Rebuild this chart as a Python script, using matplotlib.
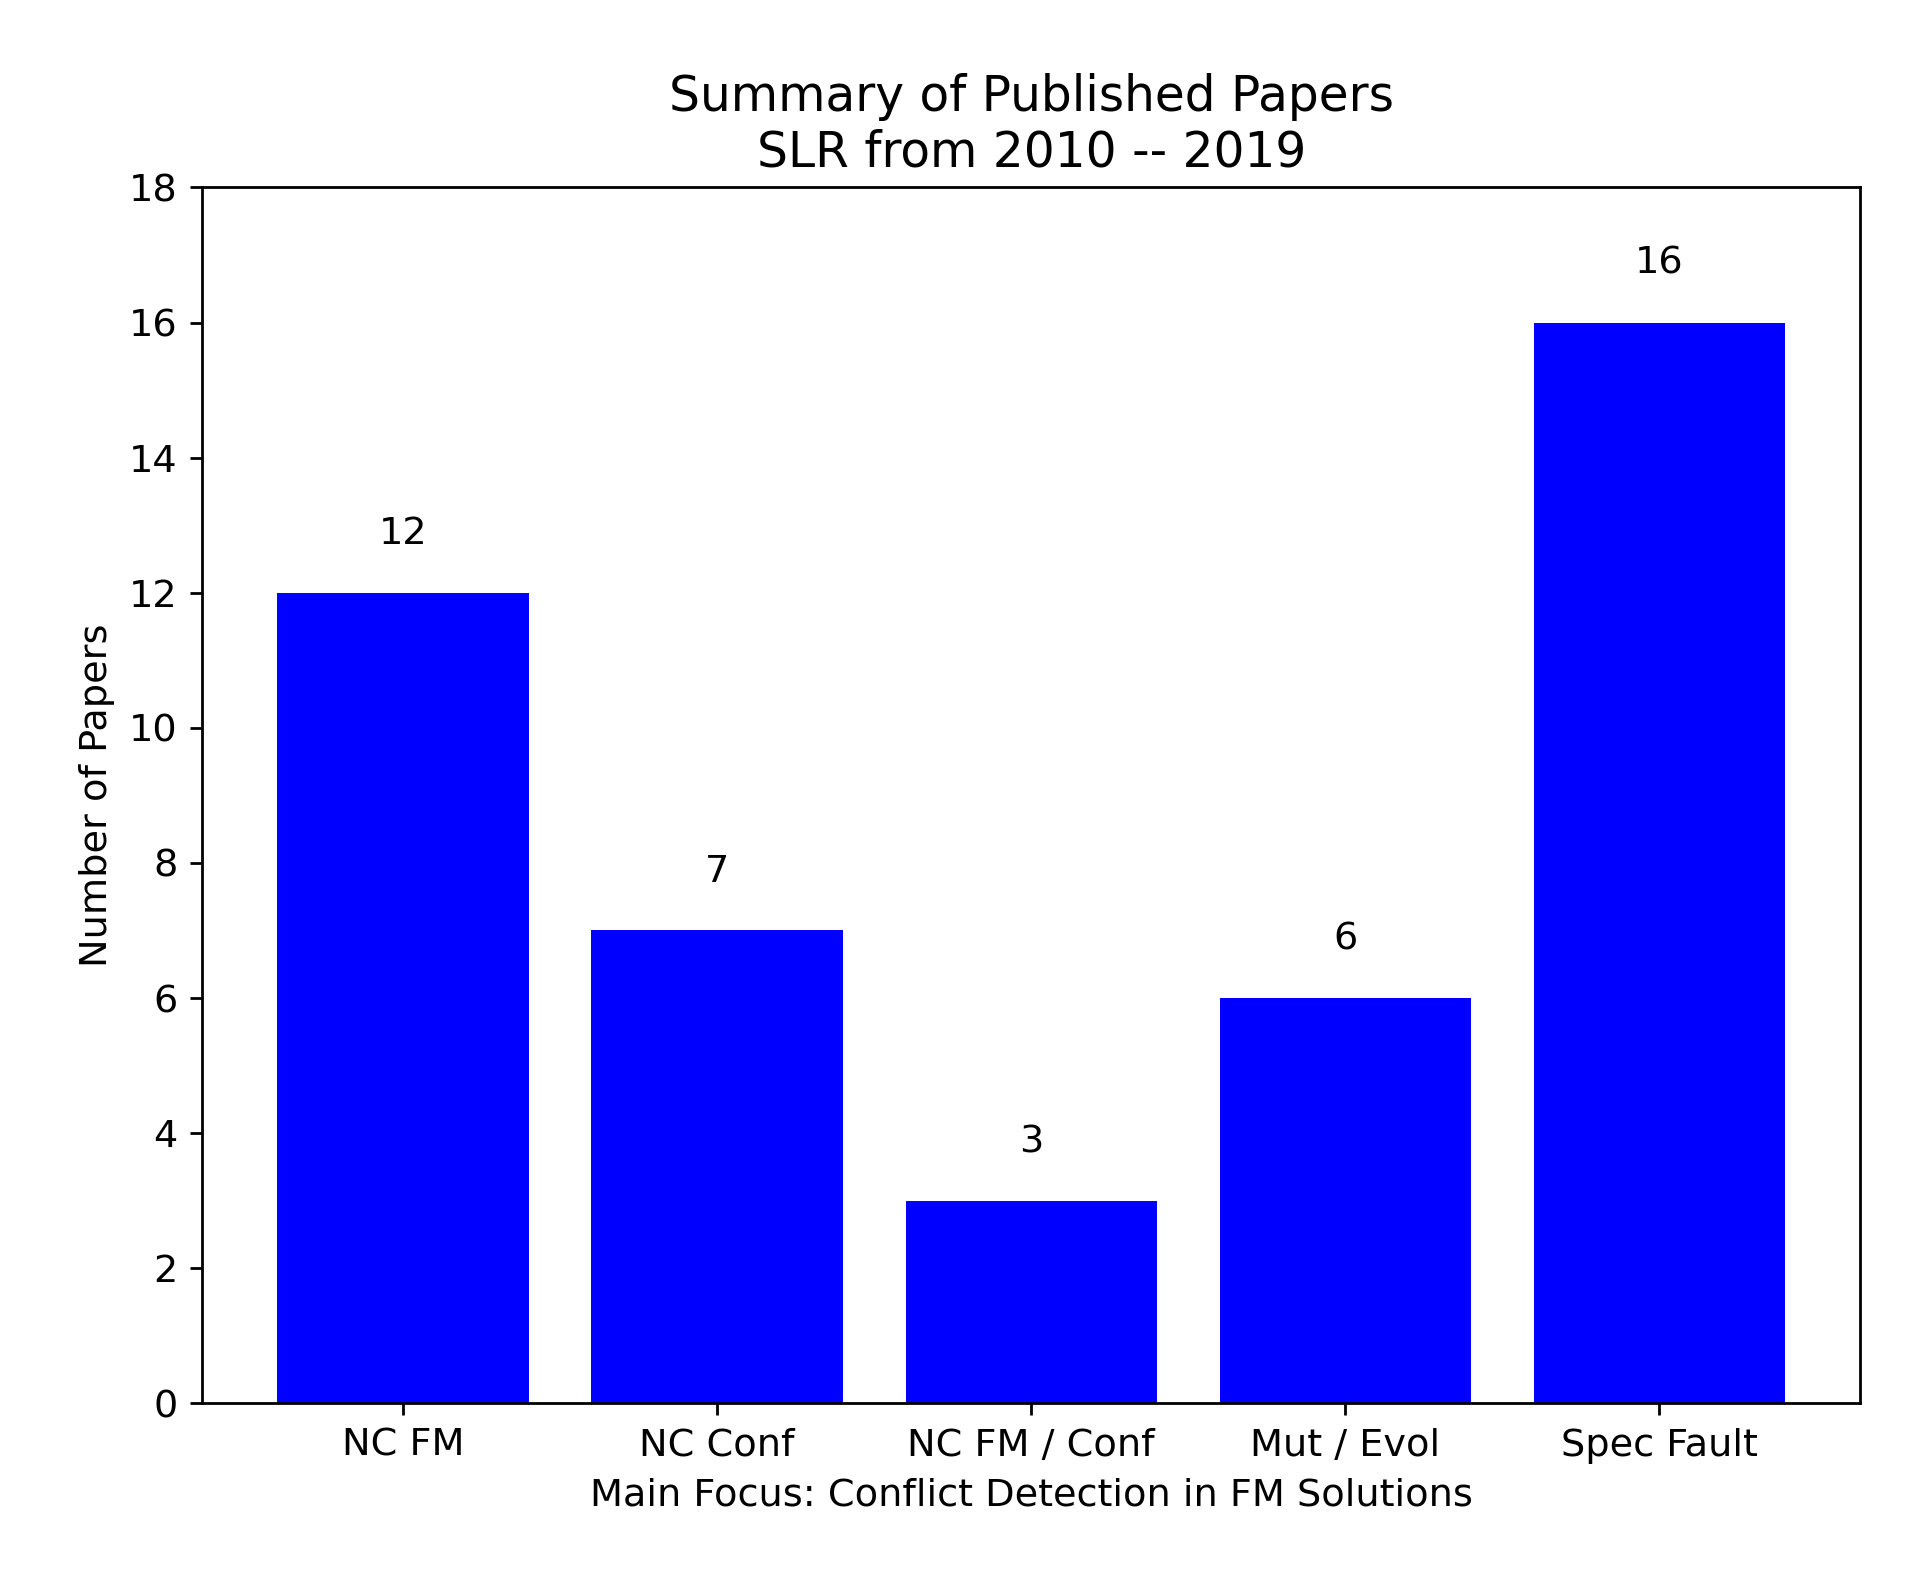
import matplotlib
matplotlib.use("Agg")
import matplotlib.pyplot as plt

categories = ["NC FM", "NC Conf", "NC FM / Conf", "Mut / Evol", "Spec Fault"]
values = [12, 7, 3, 6, 16]

fig = plt.figure(figsize=(7.624, 6.3), dpi=250)
ax = fig.add_axes([0.106, 0.109, 0.870, 0.772])
bars = ax.bar(categories, values, color="blue", width=0.8)
for i, v in enumerate(values):
    ax.text(i, v + 0.6, str(v), ha="center", va="bottom", fontsize=11)
ax.set_ylim(0, 18)
ax.set_yticks(range(0, 19, 2))
ax.tick_params(labelsize=11)
ax.set_ylabel("Number of Papers", fontsize=11)
ax.set_xlabel("Main Focus: Conflict Detection in FM Solutions", fontsize=11)
ax.set_title("Summary of Published Papers\nSLR from 2010 -- 2019", fontsize=14)
fig.savefig("out.png")
